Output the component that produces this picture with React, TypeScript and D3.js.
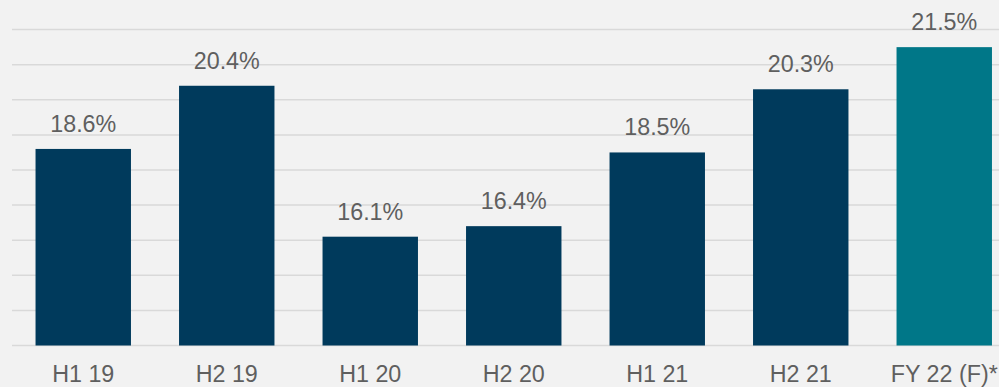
import React from "react";
import * as d3 from "d3";

const categories = ["H1 19", "H2 19", "H1 20", "H2 20", "H1 21", "H2 21", "FY 22 (F)*"];
const values = [18.6, 20.4, 16.1, 16.4, 18.5, 20.3, 21.5];
const valueLabels = ["18.6%", "20.4%", "16.1%", "16.4%", "18.5%", "20.3%", "21.5%"];
const gridTicks = [13, 14, 15, 16, 17, 18, 19, 20, 21, 22];
const barColors = ["#003a5c", "#003a5c", "#003a5c", "#003a5c", "#003a5c", "#003a5c", "#007788"];

const W = 999;
const H = 387;

export default function App() {
  const x = d3
    .scaleBand<string>()
    .domain(categories)
    .range([11.5, 1016])
    .paddingInner(0.335)
    .paddingOuter(0.1675);
  const y = d3.scaleLinear().domain([13, 22]).range([345.5, 29.6]);
  const font = "Arial, 'Liberation Sans', sans-serif";

  return (
    <svg
      width={W}
      height={H}
      style={{ position: "absolute", left: 0, top: 0, display: "block" }}
    >
      <rect x={0} y={0} width={W} height={H} fill="#f2f2f2" />
      {gridTicks.map((t) => (
        <line
          key={t}
          x1={12}
          x2={W}
          y1={y(t)}
          y2={y(t)}
          stroke="#d9d9d9"
          strokeWidth={1.5}
        />
      ))}
      {categories.map((c, i) => (
        <rect
          key={c}
          x={x(c)}
          y={y(values[i])}
          width={x.bandwidth()}
          height={y(13) - y(values[i])}
          fill={barColors[i]}
        />
      ))}
      {categories.map((c, i) => (
        <text
          key={"v" + c}
          x={(x(c) as number) + x.bandwidth() / 2}
          y={y(values[i]) - 17}
          textAnchor="middle"
          fontFamily={font}
          fontSize={23.3}
          fill="#5f5f5f"
        >
          {valueLabels[i]}
        </text>
      ))}
      {categories.map((c) => (
        <text
          key={"c" + c}
          x={(x(c) as number) + x.bandwidth() / 2}
          y={381.7}
          textAnchor="middle"
          fontFamily={font}
          fontSize={23.3}
          fill="#5f5f5f"
        >
          {c}
        </text>
      ))}
    </svg>
  );
}
